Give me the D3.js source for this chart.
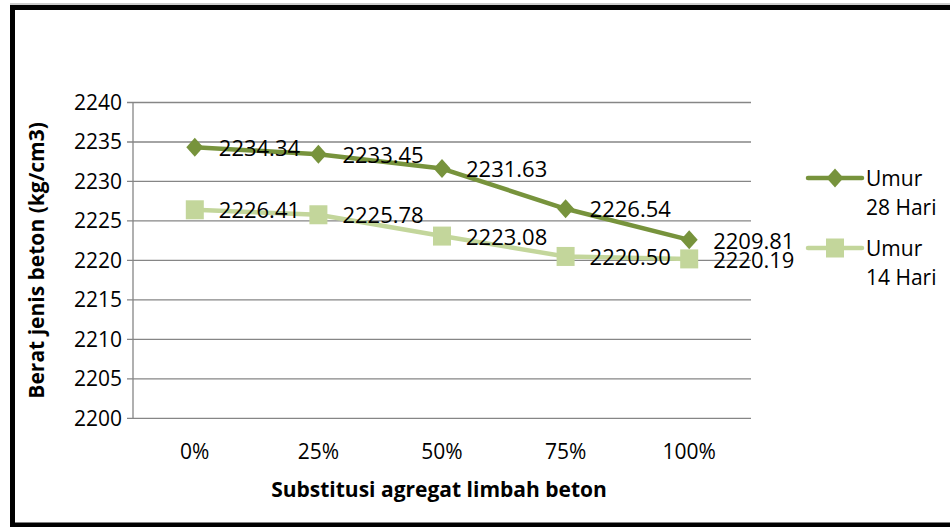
<!DOCTYPE html>
<html>
<head>
<meta charset="utf-8">
<script src="https://cdn.jsdelivr.net/npm/d3@7"></script>
<style>
  body { margin: 0; background: #fff; }
  svg text { font-family: "Open Sans", "Noto Sans", sans-serif; fill: #000; }
</style>
</head>
<body>
<svg id="chart"></svg>
<script>
// data
const categories = ["0%", "25%", "50%", "75%", "100%"];
const umur28 = [2234.34, 2233.45, 2231.63, 2226.54, 2222.6];
const umur28Labels = ["2234.34", "2233.45", "2231.63", "2226.54", "2209.81"];
const umur14 = [2226.41, 2225.78, 2223.08, 2220.50, 2220.19];
const umur14Labels = ["2226.41", "2225.78", "2223.08", "2220.50", "2220.19"];
const yTicks = [2200, 2205, 2210, 2215, 2220, 2225, 2230, 2235, 2240];

const series = [
    {name: ["Umur", "28 Hari"], values: umur28, labels: umur28Labels, color: "#77933C", marker: "diamond"},
    {name: ["Umur", "14 Hari"], values: umur14, labels: umur14Labels, color: "#C3D69B", marker: "square"}
];

const width = 950, height = 527;
const plot = {left: 133, right: 751, top: 102.5, bottom: 418.3};

const svg = d3.select("#chart")
    .attr("width", width)
    .attr("height", height);

// outer border
svg.append("line")
    .attr("x1", 10).attr("x2", width)
    .attr("y1", 4).attr("y2", 4)
    .attr("stroke", "#999").attr("stroke-width", 1);
svg.append("rect")
    .attr("x", 12.5).attr("y", 7.5)
    .attr("width", width)
    .attr("height", 517.5)
    .attr("fill", "none")
    .attr("stroke", "#000")
    .attr("stroke-width", 5);

const x = d3.scaleBand()
    .domain(categories)
    .range([plot.left, plot.right]);

const y = d3.scaleLinear()
    .domain([2200, 2240])
    .range([plot.bottom, plot.top]);

// grid lines
svg.append("g")
    .selectAll("line")
    .data(yTicks)
    .enter()
    .append("line")
    .attr("x1", plot.left - 6)
    .attr("x2", plot.right)
    .attr("y1", d => y(d))
    .attr("y2", d => y(d))
    .attr("stroke", "#868686")
    .attr("stroke-width", 1.3);

// y axis line
svg.append("line")
    .attr("x1", plot.left).attr("x2", plot.left)
    .attr("y1", plot.top).attr("y2", plot.bottom)
    .attr("stroke", "#868686")
    .attr("stroke-width", 1.3);

// y tick labels
svg.append("g")
    .selectAll("text")
    .data(yTicks)
    .enter()
    .append("text")
    .attr("x", plot.left - 11)
    .attr("y", d => y(d))
    .attr("dy", "0.35em")
    .attr("text-anchor", "end")
    .style("font-size", "21px")
    .text(d => d);

// x tick labels
svg.append("g")
    .selectAll("text")
    .data(categories)
    .enter()
    .append("text")
    .attr("x", d => x(d) + x.bandwidth() / 2)
    .attr("y", 459)
    .attr("text-anchor", "middle")
    .style("font-size", "21px")
    .text(d => d);

// axis titles
svg.append("text")
    .attr("x", (plot.left + plot.right) / 2 - 3)
    .attr("y", 497)
    .attr("text-anchor", "middle")
    .style("font-size", "21px")
    .style("font-weight", "bold")
    .text("Substitusi agregat limbah beton");

svg.append("text")
    .attr("transform", "translate(44," + ((plot.top + plot.bottom) / 2) + ") rotate(-90)")
    .attr("text-anchor", "middle")
    .style("font-size", "21px")
    .style("font-weight", "bold")
    .text("Berat jenis beton (kg/cm3)");

const line = d3.line()
    .x((d, i) => x(categories[i]) + x.bandwidth() / 2)
    .y(d => y(d));

function drawMarker(g, type, color) {
    if (type === "diamond") {
        g.append("path")
            .attr("d", "M0,-9.5L8.5,0L0,9.5L-8.5,0Z")
            .attr("fill", color);
    } else {
        g.append("rect")
            .attr("x", -9).attr("y", -9.5)
            .attr("width", 18).attr("height", 19)
            .attr("fill", color);
    }
}

// series (14 first so 28 is on top)
series.slice().reverse().forEach(s => {
    svg.append("path")
        .datum(s.values)
        .attr("d", line)
        .attr("fill", "none")
        .attr("stroke", s.color)
        .attr("stroke-width", 4.5)
        .attr("stroke-linejoin", "round");

    s.values.forEach((v, i) => {
        let g = svg.append("g")
            .attr("transform", "translate(" + (x(categories[i]) + x.bandwidth() / 2) + "," + y(v) + ")");
        drawMarker(g, s.marker, s.color);
    });
});

// data labels
series.forEach(s => {
    svg.append("g")
        .selectAll("text")
        .data(s.values)
        .enter()
        .append("text")
        .attr("x", (d, i) => x(categories[i]) + x.bandwidth() / 2 + 24)
        .attr("y", d => y(d) + 1)
        .attr("dy", "0.35em")
        .style("font-size", "22px")
        .text((d, i) => s.labels[i]);
});

// legend
const legend = svg.append("g");
series.forEach((s, k) => {
    let ly = 178 + k * 70;
    legend.append("line")
        .attr("x1", 808).attr("x2", 862)
        .attr("y1", ly).attr("y2", ly)
        .attr("stroke", s.color)
        .attr("stroke-width", 4.5)
        .attr("stroke-linecap", "round");
    let g = legend.append("g").attr("transform", "translate(835," + ly + ")");
    drawMarker(g, s.marker, s.color);
    legend.append("text")
        .attr("x", 866)
        .attr("y", ly + 8)
        .style("font-size", "21px")
        .text(s.name[0]);
    legend.append("text")
        .attr("x", 866)
        .attr("y", ly + 37)
        .style("font-size", "21px")
        .text(s.name[1]);
});
</script>
</body>
</html>
